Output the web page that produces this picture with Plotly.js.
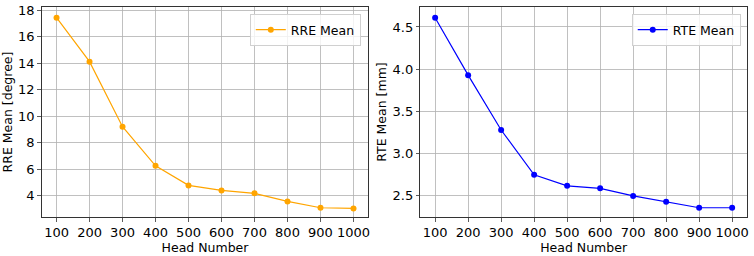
<!DOCTYPE html>
<html>
<head>
<meta charset="utf-8">
<script src="https://cdn.plot.ly/plotly-3.0.1.min.js"></script>
<style>html,body{margin:0;padding:0;background:#fff;}#chart{width:754px;height:256px;}</style>
</head>
<body>
<div id="chart"></div>
<script>
const headNumbers = [100, 200, 300, 400, 500, 600, 700, 800, 900, 1000];
const rreMean = [17.44, 14.12, 9.21, 6.26, 4.78, 4.40, 4.18, 3.57, 3.09, 3.04];
const rteMean = [4.61, 3.93, 3.28, 2.75, 2.62, 2.59, 2.50, 2.43, 2.36, 2.36];
const rreTicks = [4, 6, 8, 10, 12, 14, 16, 18];
const rteTicks = [2.5, 3.0, 3.5, 4.0, 4.5];
const rteTickLabels = ['2.5', '3.0', '3.5', '4.0', '4.5'];

const font = {family: 'DejaVu Sans', size: 12.5, color: '#000'};
const tickFont = {family: 'DejaVu Sans', size: 13, color: '#000'};
const axisCommon = {
  showline: true, mirror: true, linecolor: '#333', linewidth: 1,
  showgrid: true, gridcolor: '#b0b0b0', gridwidth: 0.8,
  ticks: 'outside', ticklen: 3.5, tickcolor: '#333', tickwidth: 0.8,
  zeroline: false, tickfont: tickFont
};

const traces = [
  {x: headNumbers, y: rreMean, type: 'scatter', mode: 'lines+markers', name: 'RRE Mean',
   line: {color: '#FFA500', width: 1.2}, marker: {color: '#FFA500', size: 6},
   xaxis: 'x', yaxis: 'y', legend: 'legend'},
  {x: headNumbers, y: rteMean, type: 'scatter', mode: 'lines+markers', name: 'RTE Mean',
   line: {color: '#0000FF', width: 1.2}, marker: {color: '#0000FF', size: 6},
   xaxis: 'x2', yaxis: 'y2', legend: 'legend2'}
];

const legendCommon = {
  bgcolor: 'rgba(255,255,255,0.8)', bordercolor: '#d0d0d0', borderwidth: 1,
  font: font, xanchor: 'right', yanchor: 'top', xref: 'paper', yref: 'paper',
  itemwidth: 30, tracegroupgap: 0
};

const layout = {
  width: 754, height: 256,
  margin: {l: 0, r: 0, t: 0, b: 0},
  paper_bgcolor: '#fff', plot_bgcolor: '#fff',
  font: font,
  showlegend: true,
  xaxis: Object.assign({}, axisCommon, {
    domain: [0.0553, 0.4885], range: [55, 1045], tickvals: headNumbers,
    title: {text: 'Head Number', font: font, standoff: 1}, anchor: 'y'
  }),
  yaxis: Object.assign({}, axisCommon, {
    domain: [0.1512, 0.9738], range: [2.37, 18.27], tickvals: rreTicks,
    title: {text: 'RRE Mean [degree]', font: font, standoff: 3}, anchor: 'x'
  }),
  xaxis2: Object.assign({}, axisCommon, {
    domain: [0.5574, 0.9907], range: [55, 1045], tickvals: headNumbers,
    title: {text: 'Head Number', font: font, standoff: 1}, anchor: 'y2'
  }),
  yaxis2: Object.assign({}, axisCommon, {
    domain: [0.1512, 0.9738], range: [2.247, 4.74], tickvals: rteTicks, ticktext: rteTickLabels,
    title: {text: 'RTE Mean [mm]', font: font, standoff: 3}, anchor: 'x2'
  }),
  legend: Object.assign({}, legendCommon, {x: 0.4785, y: 0.945}),
  legend2: Object.assign({}, legendCommon, {x: 0.9824, y: 0.945})
};

Plotly.newPlot('chart', traces, layout, {displayModeBar: false, staticPlot: true});
</script>
</body>
</html>
